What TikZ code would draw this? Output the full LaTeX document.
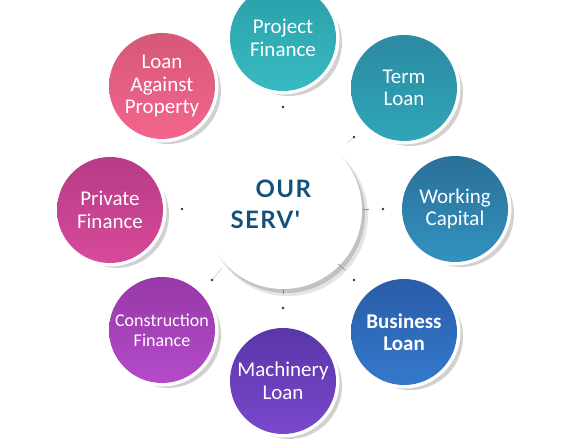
\documentclass[tikz,border=0pt]{standalone}
\usepackage{fontspec}
\setmainfont{Carlito}
\newfontfamily\titlefont[LetterSpace=6.0]{Lato}
\definecolor{pfA}{HTML}{2A9FA8}\definecolor{pfB}{HTML}{38BAC2}
\definecolor{tlA}{HTML}{2B8AA2}\definecolor{tlB}{HTML}{30A6B8}
\definecolor{wcA}{HTML}{2A7098}\definecolor{wcB}{HTML}{3292C0}
\definecolor{blA}{HTML}{2A5CA8}\definecolor{blB}{HTML}{3479CC}
\definecolor{mlA}{HTML}{5936A8}\definecolor{mlB}{HTML}{7A48CC}
\definecolor{cfA}{HTML}{9738A8}\definecolor{cfB}{HTML}{B44BC9}
\definecolor{prA}{HTML}{B63B88}\definecolor{prB}{HTML}{D84A99}
\definecolor{lpA}{HTML}{D65879}\definecolor{lpB}{HTML}{F3658D}
\definecolor{navy}{HTML}{13507A}
\tikzset{
  svc/.style={circle,minimum size=106pt,inner sep=0pt,text=white,align=center,
    font=\fontsize{21}{22.5}\selectfont,
    preaction={fill=black!18,transform canvas={shift={(6pt,-5pt)}}},
    preaction={draw=white,line width=7pt}},
  dot/.style={circle,fill=black!80,inner sep=0pt,minimum size=2.6pt},
  tick/.style={black!45,line width=0.6pt},
}
\begin{document}
\begin{tikzpicture}[x=1pt,y=1pt]
  \useasboundingbox (0,0) rectangle (565,442);
  \clip (0,0) rectangle (565,442);
  % centre
  \fill[black!10] (288,226) circle(80);
  \fill[black!24] (286,228) circle(79);
  \node[circle,fill=white,minimum size=158pt,inner sep=0pt] (core) at (283,232){};
  \node[anchor=base west,text=navy,font=\titlefont\bfseries\fontsize{24}{28}\selectfont] (our) at (252,244){OUR};
  \node[anchor=base west,text=navy,font=\titlefont\bfseries\fontsize{24}{28}\selectfont] (serv) at (227,213){SERV'};
  \draw[tick] (363,233)--(369,233);
  \draw[tick] (338,178)--(345,172);
  \draw[tick] (283,153)--(283,148);
  % dots
  \node[dot] (d1) at (283,335){};
  \node[dot] (d2) at (354,305){};
  \node[dot] (d3) at (383,233){};
  \node[dot] (d4) at (354,162){};
  \node[dot] (d5) at (283,134){};
  \node[dot] (d6) at (212,162){};
  \node[dot] (d7) at (182,233){};
  \draw[black!25,line width=0.4pt] (d2)--++(-7,-6);
  \draw[black!25,line width=0.4pt] (d6)--++(10,12);
  % services
  \node[svc,top color=pfA,bottom color=pfB] (pf) at (283,404){Project\\Finance};
  \node[svc,top color=tlA,bottom color=tlB] (tl) at (404,354){Term\\Loan};
  \node[svc,top color=wcA,bottom color=wcB] (wc) at (455,233){Working\\Capital};
  \node[svc,top color=blA,bottom color=blB,font=\bfseries\fontsize{21}{22.5}\selectfont] (bl) at (404,110){Business\\Loan};
  \node[svc,top color=mlA,bottom color=mlB] (ml) at (283,61){Machinery\\Loan};
  \node[svc,top color=cfA,bottom color=cfB,font=\fontsize{18}{20}\selectfont] (cf) at (162,112){Construction\\Finance};
  \node[svc,top color=prA,bottom color=prB] (prf) at (110,232){Private\\Finance};
  \node[svc,top color=lpA,bottom color=lpB] (lap) at (162,356){Loan\\Against\\Property};
\end{tikzpicture}
\end{document}
